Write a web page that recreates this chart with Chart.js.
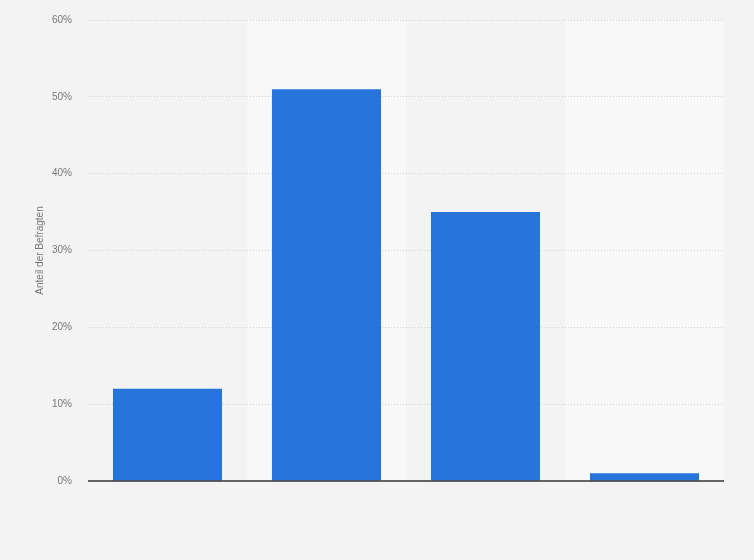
<!DOCTYPE html>
<html>
<head>
<meta charset="utf-8">
<script src="https://cdn.jsdelivr.net/npm/chart.js@4/dist/chart.umd.min.js"></script>
<style>
    html, body { margin: 0; padding: 0; background: #f3f3f3; }
    #wrap { width: 754px; height: 560px; }
</style>
</head>
<body>
<div id="wrap"><canvas id="dataChart"></canvas></div>
<script>
// data
var categories = ['', '', '', ''];
var shares = [12, 51, 35, 1];
var yTicks = [0, 10, 20, 30, 40, 50, 60];

// light bands behind every second column (drawn before the grid)
var bands = {
    id: 'bands',
    beforeDraw: function (chart) {
        var ctx = chart.ctx;
        var x = chart.scales.x;
        var area = chart.chartArea;
        var w = x.width / categories.length;
        ctx.save();
        ctx.fillStyle = '#f8f8f8';
        for (var i = 1; i < categories.length; i += 2) {
            ctx.fillRect(x.getPixelForValue(i) - w / 2, area.top, w, area.bottom - area.top);
        }
        ctx.restore();
    }
};

// dark baseline at 0%
var baseline = {
    id: 'baseline',
    afterDatasetsDraw: function (chart) {
        var ctx = chart.ctx;
        var y0 = chart.scales.y.getPixelForValue(0);
        ctx.save();
        ctx.strokeStyle = '#333';
        ctx.lineWidth = 1.5;
        ctx.beginPath();
        ctx.moveTo(chart.chartArea.left, y0);
        ctx.lineTo(chart.chartArea.right, y0);
        ctx.stroke();
        ctx.restore();
    }
};

var ctx = document.querySelector('#dataChart').getContext('2d');

var dataChart = new Chart(ctx, {
    type: 'bar',
    data: {
        labels: categories,
        datasets: [{
            label: 'Anteil der Befragten',
            data: shares,
            backgroundColor: '#2775da',
            borderWidth: 0,
            barPercentage: 0.686,
            categoryPercentage: 1
        }]
    },
    options: {
        responsive: true,
        maintainAspectRatio: false,
        animation: false,
        layout: { padding: { top: 20, right: 30, bottom: 79, left: 0 } },
        plugins: {
            legend: { display: false },
            tooltip: { enabled: false }
        },
        scales: {
            x: {
                display: false
            },
            y: {
                min: 0,
                max: 60,
                afterFit: function (scale) {
                    scale.width = 88;
                    scale.paddingTop = 0;
                    scale.paddingBottom = 0;
                },
                afterBuildTicks: function (scale) {
                    scale.ticks = yTicks.map(function (v) { return { value: v }; });
                },
                border: { display: false, dash: [1, 2] },
                grid: {
                    drawTicks: false,
                    color: function (c) { return c.tick && c.tick.value === 0 ? 'rgba(0,0,0,0)' : '#d0d0d0'; }
                },
                ticks: {
                    padding: 16,
                    color: '#777',
                    font: { family: 'Liberation Sans, Arial, sans-serif', size: 10 },
                    callback: function (v) { return v + '%'; }
                },
                title: {
                    display: true,
                    text: 'Anteil der Befragten',
                    color: '#777',
                    font: { family: 'Liberation Sans, Arial, sans-serif', size: 10 },
                    padding: { top: 34 }
                }
            }
        }
    },
    plugins: [bands, baseline]
});
</script>
</body>
</html>
